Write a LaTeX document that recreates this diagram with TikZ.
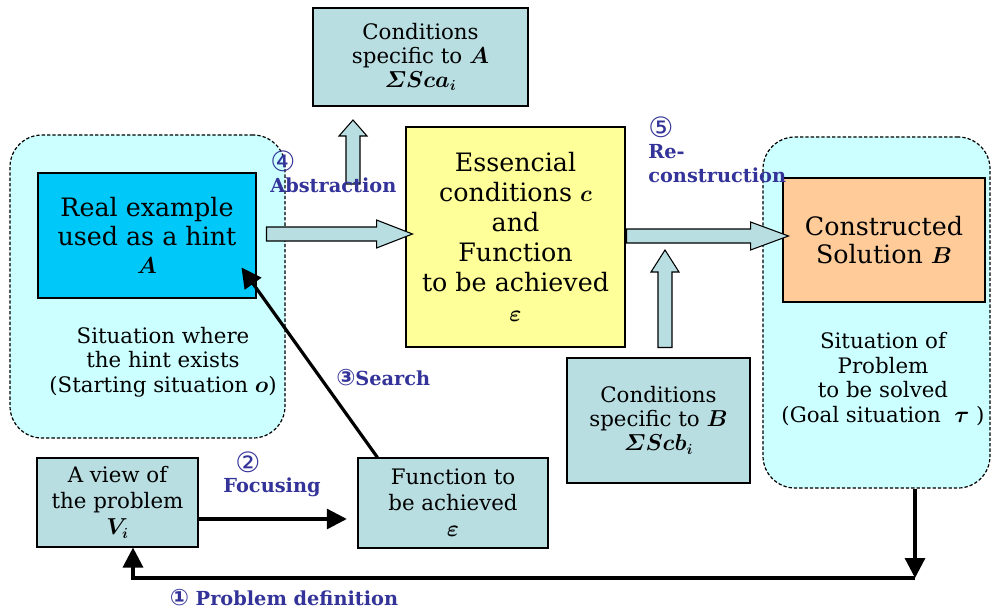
\documentclass[tikz,border=0pt]{standalone}
\usepackage{amsmath}
\usepackage{fontspec}
\setmainfont{DejaVu Serif}
\newfontfamily\circfont{DejaVu Sans}
\usetikzlibrary{arrows.meta,calc,positioning}

\definecolor{sitcyan}{HTML}{CCFFFF}
\definecolor{hintcyan}{HTML}{00C8F8}
\definecolor{essyellow}{HTML}{FFFF99}
\definecolor{solorange}{HTML}{FFCC99}
\definecolor{condblue}{HTML}{B8DEE2}
\definecolor{labelblue}{HTML}{333399}

% fat block arrows: start, tip, head length
\newcommand*{\fatarrowh}[3]{%
  \draw[fatarrow] ($(#1)+(0,-7)$) -- ($(#2)+(-#3,-7)$) -- ($(#2)+(-#3,-14)$)
    -- (#2) -- ($(#2)+(-#3,14)$) -- ($(#2)+(-#3,7)$) -- ($(#1)+(0,7)$) -- cycle;}
\newcommand*{\fatarrowv}[3]{%
  \draw[fatarrow] ($(#1)+(-7,0)$) -- ($(#2)+(-7,#3)$) -- ($(#2)+(-14,#3)$)
    -- (#2) -- ($(#2)+(14,#3)$) -- ($(#2)+(7,#3)$) -- ($(#1)+(7,0)$) -- cycle;}

\begin{document}
\begin{tikzpicture}
[
	x=0.75pt,y=-0.75pt,
	sitbox/.style={draw,fill=sitcyan,line width=0.9pt,dash pattern=on 2.5pt off 1.5pt,rounded corners=24pt,inner sep=0pt},
	mainbox/.style={draw,line width=2.2pt,align=center,inner sep=0pt,font=\fontsize{19}{21.5}\selectfont\boldmath},
	condbox/.style={draw,fill=condblue,line width=0.8pt,align=center,inner sep=0pt,font=\fontsize{16}{18}\selectfont\boldmath},
	sittext/.style={align=center,font=\fontsize{16}{18.5}\selectfont\boldmath},
	steplabel/.style={text=labelblue,inner sep=0pt,font=\bfseries\fontsize{14.5}{18}\selectfont},
	stepnum/.style={text=labelblue,inner sep=0pt,font=\circfont\fontsize{21}{21}\selectfont},
	fatarrow/.style={draw,fill=condblue,line width=0.8pt},
	flow/.style={line width=2.4pt,-{Triangle[length=15pt,width=15pt]}}
]

	\useasboundingbox (0,0) rectangle (992,613);

	% situations
	\node[sitbox,minimum width=206.25pt,minimum height=227.25pt] (hintsit) at (147.5,286.5) {};
	\node[sitbox,minimum width=170.25pt,minimum height=263.25pt] (goalsit) at (876.5,312.5) {};

	\node[sittext] (hintsittext) at (163,362) {Situation where\\ the hint exists\\(Starting situation $o$)};
	\node[sittext] (goalsittext) at (883,379) {Situation of\\Problem\\to be solved\\(Goal situation \ $\tau$ )};

	% main boxes
	\node[mainbox,fill=hintcyan,minimum width=163.5pt,minimum height=93.75pt] (hint) at (147,235.5)
		{Real example\\used as a hint\\$A$};
	\node[mainbox,fill=essyellow,font=\fontsize{19}{22.5}\selectfont\boldmath,minimum width=164.25pt,minimum height=165pt] (ess) at (515.5,237)
		{Essencial\\conditions $c$\\and\\Function\\to be achieved\\$\varepsilon$};
	\node[mainbox,fill=solorange,minimum width=151.5pt,minimum height=93pt] (sol) at (884,240)
		{Constructed\\Solution $B$};

	% condition boxes
	\node[condbox,minimum width=161.25pt,minimum height=73.5pt] (condA) at (420.5,57)
		{Conditions\\specific to $A$\\$\varSigma Sca_i$};
	\node[condbox,minimum width=137.25pt,minimum height=93.75pt] (condB) at (658.5,420.5)
		{Conditions\\specific to $B$\\$\varSigma Scb_i$};
	\node[condbox,font=\fontsize{16}{19.5}\selectfont\boldmath,minimum width=120.75pt,minimum height=66.75pt] (view) at (117.5,502.5)
		{A view of\\the problem\\$V_i$};
	\node[condbox,font=\fontsize{16}{19.5}\selectfont\boldmath,minimum width=142.5pt,minimum height=67.5pt] (func) at (453,503)
		{Function to\\be achieved\\$\varepsilon$};

	% block arrows
	\coordinate (abstrstart) at (353,184);
	\coordinate (abstrtip) at (353,120);
	\fatarrowv{abstrstart}{abstrtip}{16}
	\coordinate (hintout) at ($(hint.east)+(9,-1.5)$);
	\coordinate (essin) at ($(ess.west |- hintout)+(8,0)$);
	\fatarrowh{hintout}{essin}{36}
	\coordinate (essout) at ($(ess.east)+(0,-1)$);
	\coordinate (solin) at ($(sol.west |- essout)+(7,0)$);
	\fatarrowh{essout}{solin}{38}
	\coordinate (condBout) at ($(condB.north)+(6.5,-10)$);
	\coordinate (condBtip) at (condBout |- 0,250);
	\fatarrowv{condBout}{condBtip}{22}

	% flow arrows
	\coordinate (viewout) at ($(view.east)+(0,16.5)$);
	\draw[flow] (viewout) -- (viewout -| func.west) [shorten >=8pt];
	\coordinate (searchstart) at ($(func.north west)+(20,0)$);
	\coordinate (searchtip) at ($(hint.south east)+(-16,-32)$);
	\draw[flow] (searchstart) -- (searchtip);
	\coordinate (fbstart) at ($(goalsit.south)+(38.5,0)$);
	\coordinate (fbcorner) at (fbstart |- 0,578);
	\coordinate (fbend) at ($(view.south)+(15.5,0)$);
	\draw[flow] (fbstart) -- (fbcorner);
	\draw[flow] (fbcorner) -- (fbcorner -| fbend) -- (fbend);

	% step labels
	\node[stepnum,anchor=west] (numabstr) at (270,161) {④};
	\node[steplabel,anchor=west] (abstr) at (270,185) {Abstraction};
	\node[stepnum,anchor=west] (numrecon) at (648,127) {⑤};
	\node[steplabel,anchor=west,align=left] (recon) at (648,164) {Re-\\construction};
	\node[steplabel,anchor=west] (search) at (336,378) {{\circfont\fontsize{17}{17}\selectfont ③}Search};
	\node[stepnum] (numfocus) at (248,462) {②};
	\node[steplabel] (focus) at (272,487) {Focusing};
	\node[steplabel] (probdef) at (284,598) {{\circfont\fontsize{17}{17}\selectfont ①} Problem definition};

\end{tikzpicture}
\end{document}
